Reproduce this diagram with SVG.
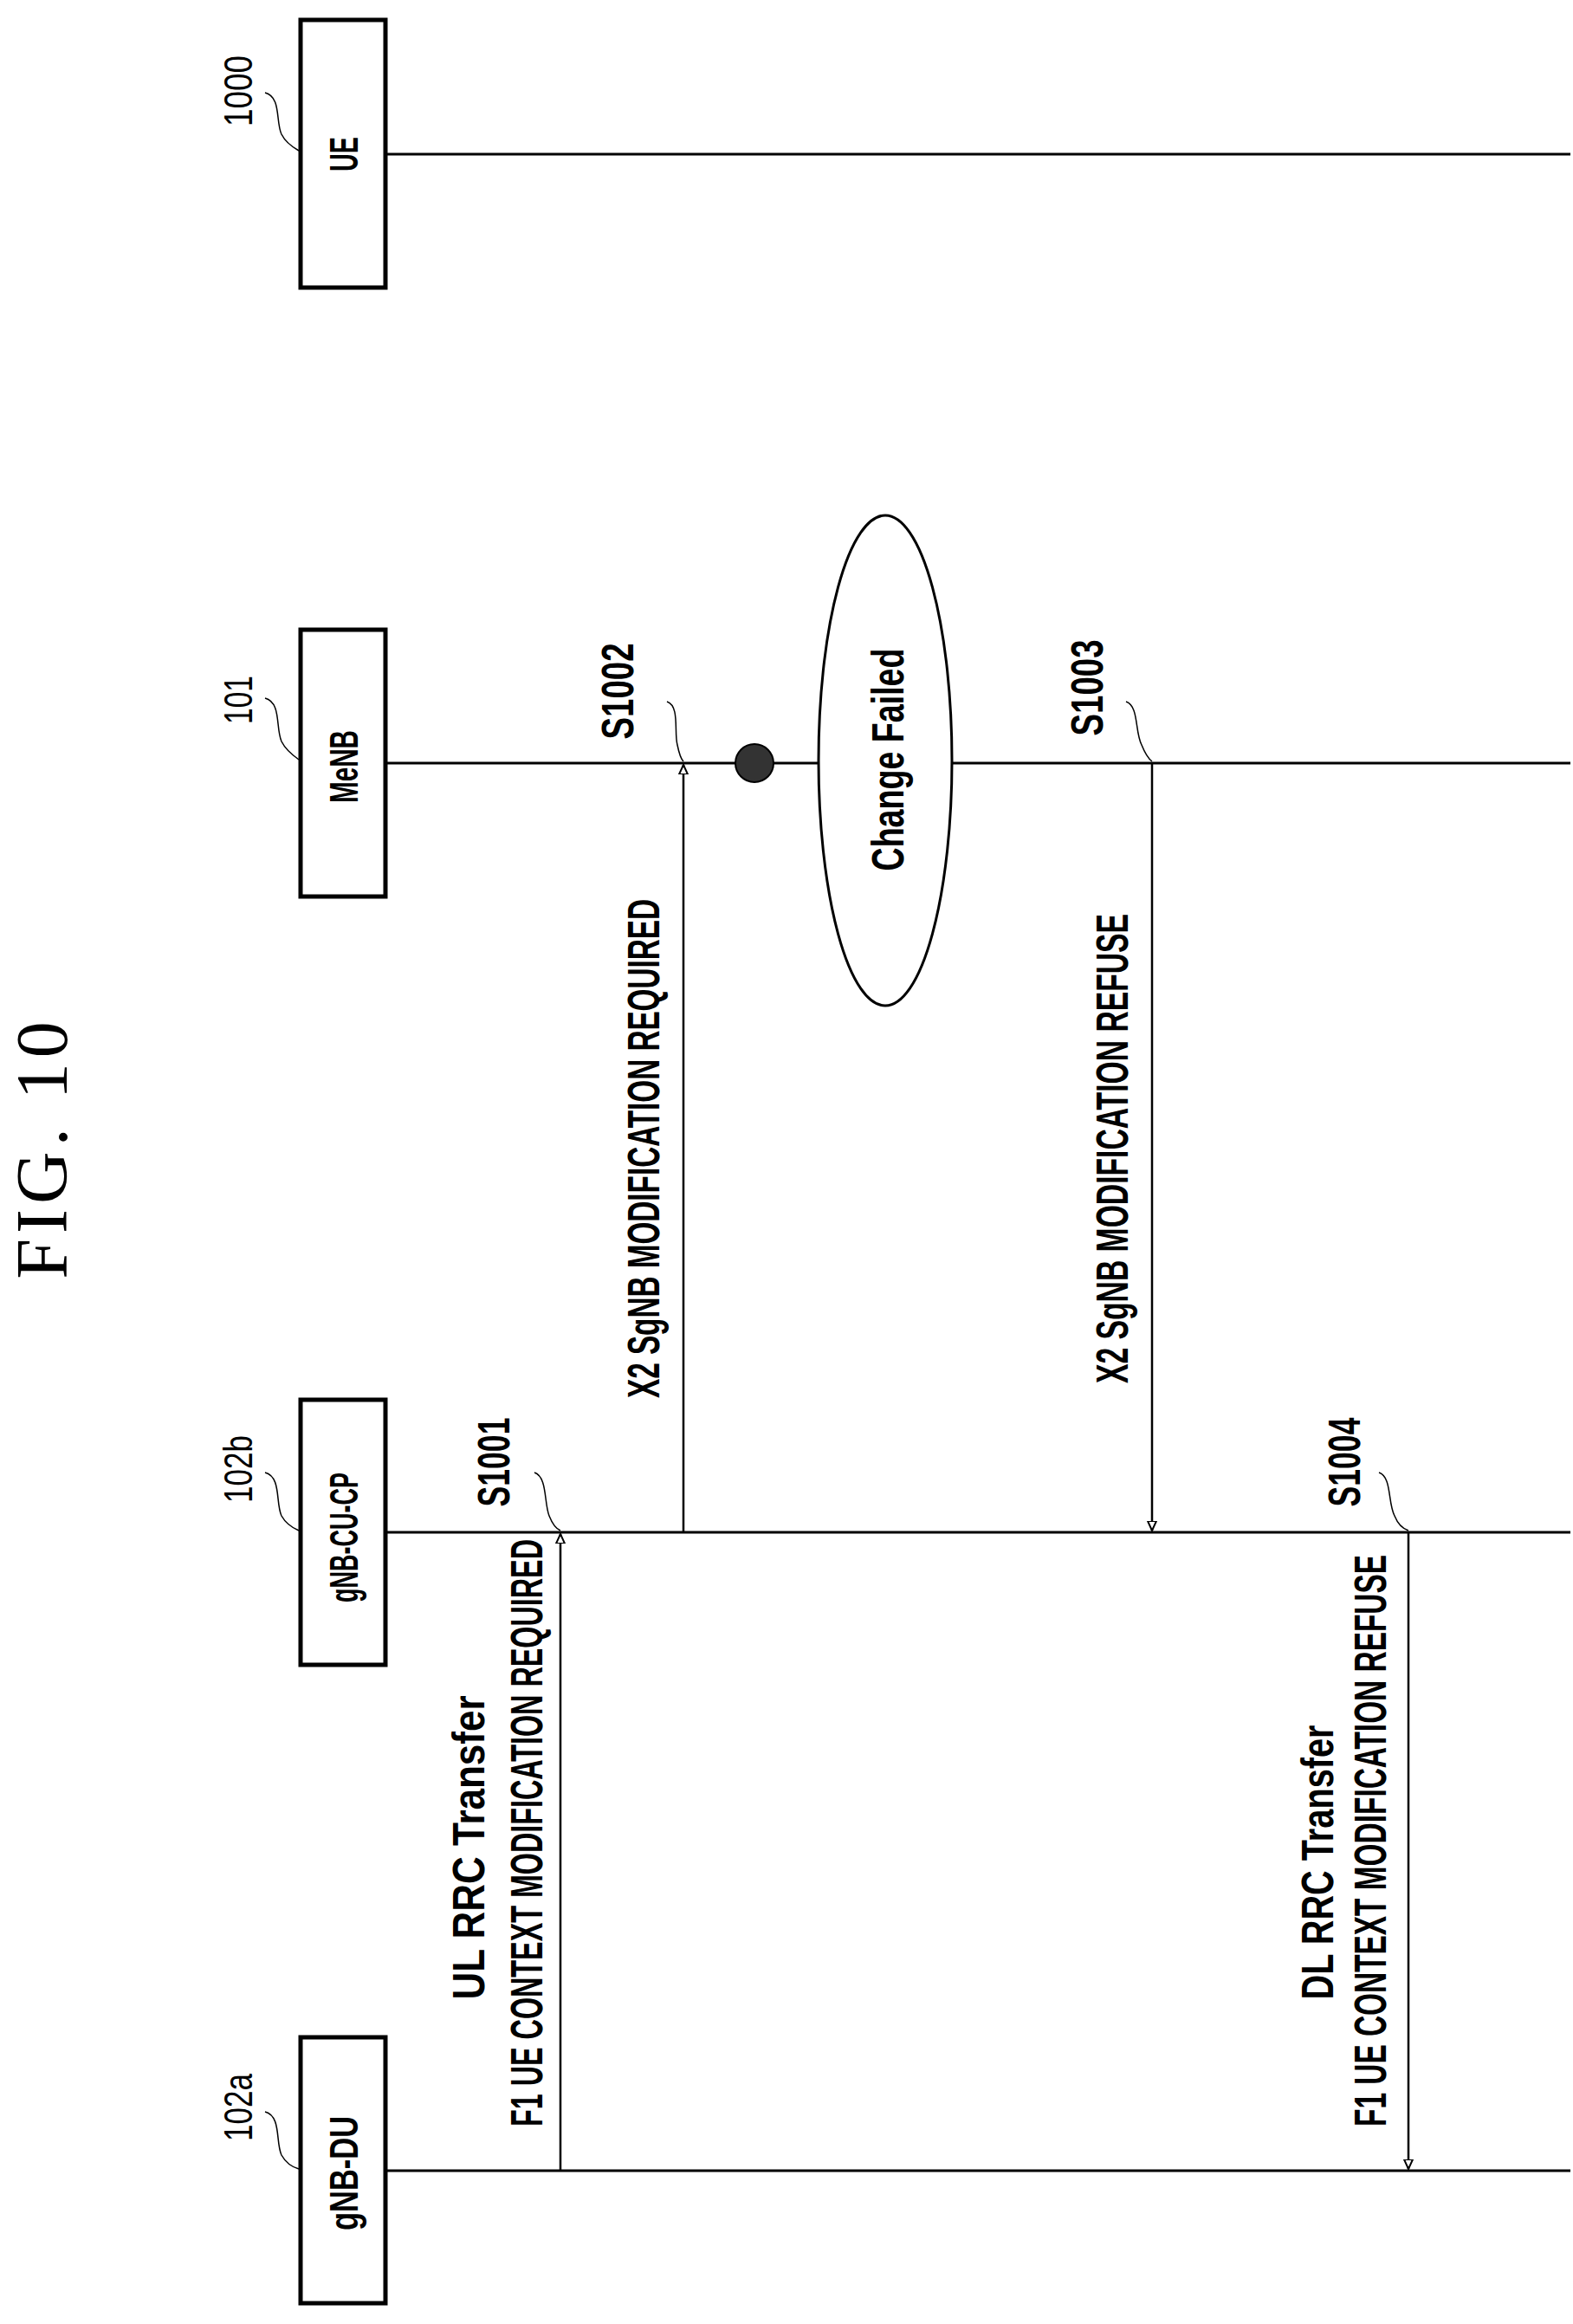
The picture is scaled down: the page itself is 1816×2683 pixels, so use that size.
<svg xmlns="http://www.w3.org/2000/svg" width="1816" height="2683" viewBox="0 0 1816 2683">
<style>
.box{fill:#fff;stroke:#000;stroke-width:5}
.life{stroke:#000;stroke-width:3;fill:none}
.msg{stroke:#000;stroke-width:2.5;fill:none}
.lead{stroke:#000;stroke-width:1.5;fill:none}
text{font-family:"Liberation Sans",Arial,sans-serif;font-weight:bold;fill:#000;text-anchor:middle;dominant-baseline:central}
.t{font-size:52px}
.b{font-size:46px}
.r{font-size:46px;font-weight:normal}
.fig{font-family:"Liberation Serif","Times New Roman",serif;font-weight:normal;font-size:84px;letter-spacing:6px}
</style>
<defs>
<marker id="ah" viewBox="0 0 12 12" refX="11" refY="6" markerWidth="12" markerHeight="12" markerUnits="userSpaceOnUse" orient="auto">
<path d="M0,1 L11,6 L0,11 Z" fill="#fff" stroke="#000" stroke-width="2"/>
</marker>
</defs>
<text class="fig" transform="translate(48,1325) rotate(-90)">FIG. 10</text>
<g id="connectors">
<line class="life" x1="446" y1="178" x2="1813" y2="178"/>
<line class="life" x1="446" y1="881" x2="945" y2="881"/>
<line class="life" x1="1099" y1="881" x2="1813" y2="881"/>
<line class="life" x1="446" y1="1769" x2="1813" y2="1769"/>
<line class="life" x1="446" y1="2506" x2="1813" y2="2506"/>
<line class="msg" x1="647" y1="2506" x2="647" y2="1771" marker-end="url(#ah)"/>
<line class="msg" x1="789" y1="1769" x2="789" y2="883" marker-end="url(#ah)"/>
<line class="msg" x1="1330" y1="881" x2="1330" y2="1767" marker-end="url(#ah)"/>
<line class="msg" x1="1626" y1="1769" x2="1626" y2="2504" marker-end="url(#ah)"/>
<path class="lead" d="M306,107 C325,112 318,140 325,155 C330,165 338,170 345,174"/>
<path class="lead" d="M306,806 C325,811 318,840 325,856 C330,866 338,872 345,877"/>
<path class="lead" d="M306,1700 C325,1705 318,1735 325,1750 C330,1759 338,1764 345,1767"/>
<path class="lead" d="M306,2438 C325,2443 318,2473 325,2488 C330,2497 338,2502 345,2504"/>
<path class="lead" d="M770,810 C785,815 778,845 782,860 C784,870 786,876 789,879"/>
<path class="lead" d="M1300,810 C1315,815 1310,845 1318,860 C1322,870 1326,876 1330,879"/>
<path class="lead" d="M617,1700 C632,1705 628,1735 634,1750 C638,1760 642,1765 647,1767"/>
<path class="lead" d="M1592,1700 C1607,1705 1602,1735 1610,1750 C1614,1760 1620,1765 1626,1767"/>
</g>
<g id="ue"><rect class="box" x="347" y="23" width="98" height="309"/><text class="b" transform="translate(397,178) rotate(-90)" textLength="40" lengthAdjust="spacingAndGlyphs">UE</text><text class="r" transform="translate(275,105) rotate(-90)" textLength="82" lengthAdjust="spacingAndGlyphs">1000</text></g>
<g id="menb"><rect class="box" x="347" y="727" width="98" height="308"/><text class="b" transform="translate(397,885) rotate(-90)" textLength="84" lengthAdjust="spacingAndGlyphs">MeNB</text><text class="r" transform="translate(275,808) rotate(-90)" textLength="56" lengthAdjust="spacingAndGlyphs">101</text></g>
<g id="gnb-cu-cp"><rect class="box" x="347" y="1616" width="98" height="306"/><text class="b" transform="translate(397,1775) rotate(-90)" textLength="150" lengthAdjust="spacingAndGlyphs">gNB-CU-CP</text><text class="r" transform="translate(275,1696) rotate(-90)" textLength="78" lengthAdjust="spacingAndGlyphs">102b</text></g>
<g id="gnb-du"><rect class="box" x="347" y="2352" width="98" height="307"/><text class="b" transform="translate(397,2509) rotate(-90)" textLength="132" lengthAdjust="spacingAndGlyphs">gNB-DU</text><text class="r" transform="translate(275,2433) rotate(-90)" textLength="78" lengthAdjust="spacingAndGlyphs">102a</text></g>
<g id="change-failed"><ellipse cx="1022" cy="878" rx="77" ry="283" fill="#fff" stroke="#000" stroke-width="3"/><text class="t" transform="translate(1025,877) rotate(-90)" textLength="257" lengthAdjust="spacingAndGlyphs">Change Failed</text></g>
<g id="dot"><circle cx="871" cy="881" r="22" fill="#333" stroke="#000" stroke-width="2"/></g>
<g id="labels">
<text class="t" transform="translate(570,1688) rotate(-90)" textLength="103" lengthAdjust="spacingAndGlyphs">S1001</text>
<text class="t" transform="translate(713,798) rotate(-90)" textLength="111" lengthAdjust="spacingAndGlyphs">S1002</text>
<text class="t" transform="translate(1255,794) rotate(-90)" textLength="111" lengthAdjust="spacingAndGlyphs">S1003</text>
<text class="t" transform="translate(1552,1688) rotate(-90)" textLength="103" lengthAdjust="spacingAndGlyphs">S1004</text>
<text class="t" transform="translate(743,1326) rotate(-90)" textLength="576" lengthAdjust="spacingAndGlyphs">X2 SgNB MODIFICATION REQUIRED</text>
<text class="t" transform="translate(1284,1326) rotate(-90)" textLength="542" lengthAdjust="spacingAndGlyphs">X2 SgNB MODIFICATION REFUSE</text>
<text class="t" transform="translate(541,2133) rotate(-90)" textLength="351" lengthAdjust="spacingAndGlyphs">UL RRC Transfer</text>
<text class="t" transform="translate(608,2116) rotate(-90)" textLength="678" lengthAdjust="spacingAndGlyphs">F1 UE CONTEXT MODIFICATION REQUIRED</text>
<text class="t" transform="translate(1521,2150) rotate(-90)" textLength="317" lengthAdjust="spacingAndGlyphs">DL RRC Transfer</text>
<text class="t" transform="translate(1582,2125) rotate(-90)" textLength="660" lengthAdjust="spacingAndGlyphs">F1 UE CONTEXT MODIFICATION REFUSE</text>
</g>
</svg>
